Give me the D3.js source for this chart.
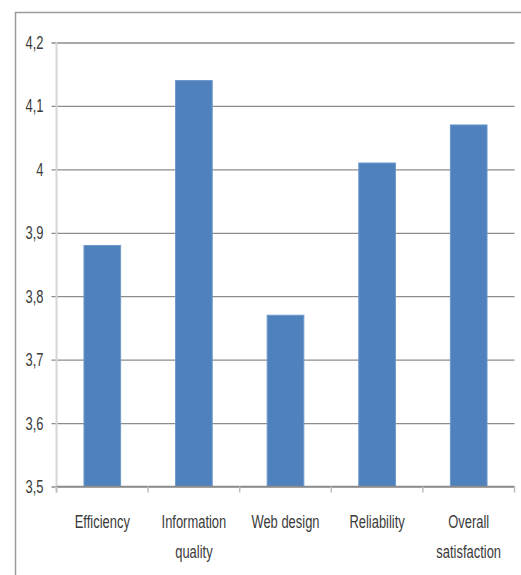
<!DOCTYPE html>
<html>
<head>
<meta charset="utf-8">
<script src="https://cdn.jsdelivr.net/npm/d3@7"></script>
<style>
  body { margin: 0; background: #fff; }
  svg text { font-family: "Liberation Sans", Arial, sans-serif; fill: #3a3a3a; }
</style>
</head>
<body>
<div id="chart"></div>
<script>
// data
var categories = [["Efficiency"], ["Information", "quality"], ["Web design"], ["Reliability"], ["Overall", "satisfaction"]];
var values = [3.88, 4.14, 3.77, 4.01, 4.07];
var yTicks = [3.5, 3.6, 3.7, 3.8, 3.9, 4.0, 4.1, 4.2];

var W = 521, H = 575;
var margin = {top: 42.5, right: 6.5, bottom: 88.5, left: 56.5},
    width = W - margin.left - margin.right,
    height = H - margin.top - margin.bottom;

// the original text is a squeezed narrow face
var squeeze = "scale(0.7,1)";
var fontSize = "18.5px";

var svg = d3.select("#chart").append("svg")
    .attr("width", W)
    .attr("height", H);

// outer frame (cut off at right and bottom)
svg.append("rect")
    .attr("x", 15.5).attr("y", 12.5)
    .attr("width", 560).attr("height", 600)
    .attr("fill", "none")
    .attr("stroke", "#9a9a9a")
    .attr("stroke-width", 1.5);

var g = svg.append("g").attr("transform", "translate(" + margin.left + "," + margin.top + ")");

var x = d3.scaleBand()
    .domain(categories.map(function (d, i) { return i; }))
    .range([0, width])
    .paddingInner(0.6)
    .paddingOuter(0.3);

var y = d3.scaleLinear()
    .domain([3.5, 4.2])
    .range([height, 0]);

var fmt = function (d) { return d3.format(".1~f")(d).replace(".", ","); };

// gridlines + y labels
var yAxis = g.append("g")
    .call(d3.axisLeft(y).tickValues(yTicks).tickSize(-width).tickFormat(fmt));
yAxis.select(".domain").remove();
yAxis.selectAll(".tick line")
    .attr("x1", -5).attr("x2", width)
    .attr("stroke", "#8c8c8c").attr("stroke-width", 1.3);
yAxis.selectAll(".tick text")
    .attr("x", 0)
    .attr("transform", "translate(-13,0) " + squeeze)
    .style("font-size", fontSize)
    .attr("fill", "#3a3a3a");

// light vertical axis line
g.append("line")
    .attr("x1", 0).attr("x2", 0)
    .attr("y1", 0).attr("y2", height + 6)
    .attr("stroke", "#d6d6d6").attr("stroke-width", 2);

// bars
g.selectAll(".bar")
    .data(values)
    .enter().append("rect")
    .attr("class", "bar")
    .attr("x", function (d, i) { return x(i); })
    .attr("y", function (d) { return y(d); })
    .attr("width", x.bandwidth())
    .attr("height", function (d) { return height - y(d); })
    .attr("fill", "#4f81bd")
    .attr("stroke", "#6d97cc")
    .attr("stroke-width", 1);

// x axis line and category separators
var step = width / categories.length;
g.append("line")
    .attr("x1", 0).attr("x2", width)
    .attr("y1", height).attr("y2", height)
    .attr("stroke", "#8c8c8c").attr("stroke-width", 1.3);
g.selectAll(".sep")
    .data(d3.range(categories.length + 1))
    .enter().append("line")
    .attr("x1", function (d) { return d * step; })
    .attr("x2", function (d) { return d * step; })
    .attr("y1", height).attr("y2", height + 6)
    .attr("stroke", "#bdbdbd").attr("stroke-width", 1.5);

// category labels
var labels = g.selectAll(".label")
    .data(categories)
    .enter().append("text")
    .attr("class", "label")
    .attr("text-anchor", "middle")
    .attr("transform", function (d, i) {
        return "translate(" + (x(i) + x.bandwidth() / 2) + "," + (height + 41) + ") " + squeeze;
    })
    .style("font-size", fontSize);
labels.selectAll("tspan")
    .data(function (d) { return d; })
    .enter().append("tspan")
    .attr("x", 0)
    .attr("y", function (d, i) { return i * 31; })
    .text(function (d) { return d; });
</script>
</body>
</html>
